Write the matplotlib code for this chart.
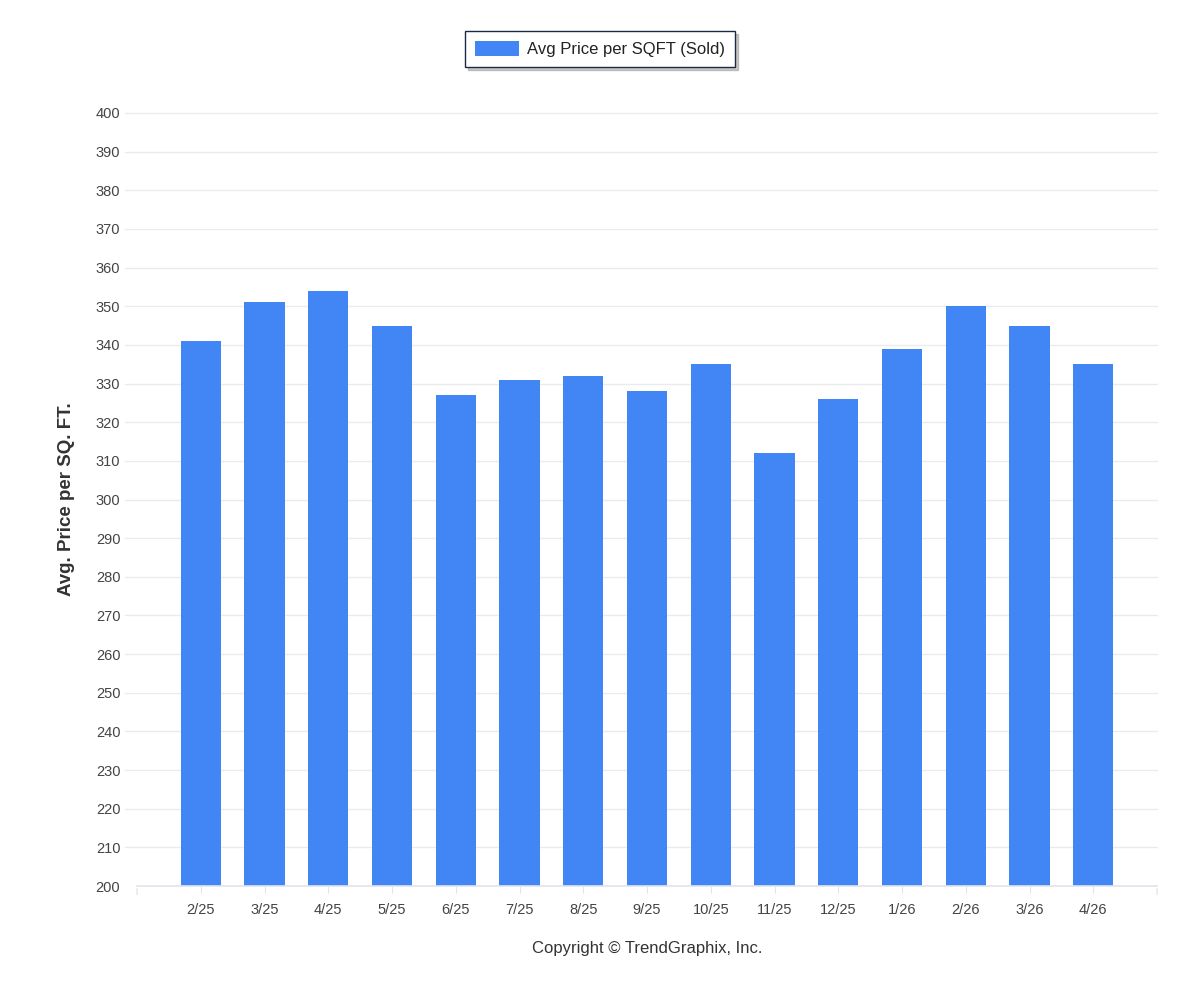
import matplotlib.pyplot as plt

# ------------------------------------------------------------
# Data
# ------------------------------------------------------------
months = ["2/25", "3/25", "4/25", "5/25", "6/25", "7/25", "8/25", "9/25",
          "10/25", "11/25", "12/25", "1/26", "2/26", "3/26", "4/26"]
price_sqft = [341, 351, 354, 345, 327, 331, 332, 328,
              335, 312, 326, 339, 350, 345, 335]
y_ticks = list(range(200, 401, 10))

bar_color = "#4285f4"
grid_color = "#ebebeb"
axis_color = "#e0e4ec"
tick_font = ["Liberation Sans", "DejaVu Sans"]

# ------------------------------------------------------------
# Figure
# ------------------------------------------------------------
fig = plt.figure(figsize=(12, 10), dpi=100)
ax = fig.add_axes([0.1142, 0.114, 0.85, 0.773])

x = list(range(len(months)))
bars = ax.bar(x, price_sqft, width=0.63, color=bar_color, zorder=3,
              label="Avg Price per SQFT (Sold)")

ax.set_xlim(-1, len(months))
ax.set_ylim(200, 400)
ax.set_yticks(y_ticks)
ax.set_yticklabels([str(v) for v in y_ticks], family=tick_font,
                   fontsize=10.5, color="#444444")
ax.set_xticks(x)
ax.set_xticklabels(months, family=tick_font, fontsize=10.5, color="#444444")

# gridlines drawn a bit into the left margin like the original
for v in y_ticks[1:]:
    ax.axhline(v, xmin=-0.012, xmax=1, color=grid_color, lw=1,
               zorder=0, clip_on=False)

for s in ["top", "right", "left"]:
    ax.spines[s].set_visible(False)
ax.spines["bottom"].set_color(axis_color)
ax.spines["bottom"].set_linewidth(1.2)
ax.spines["bottom"].set_zorder(4)

ax.tick_params(axis="y", length=0, pad=12)
ax.tick_params(axis="x", length=5, color=axis_color, pad=7)

# taller end ticks at the plot edges
for xe in (-1, len(months)):
    ax.annotate("", xy=(xe, 0), xycoords=("data", "axes fraction"),
                xytext=(xe, -0.0145), textcoords=("data", "axes fraction"),
                arrowprops=dict(arrowstyle="-", color=axis_color, lw=1))

ax.set_ylabel("Avg. Price per SQ. FT.", fontsize=13.5, fontweight="bold",
              color="#333333", labelpad=15,
              family=["Liberation Sans", "DejaVu Sans"])

# legend at top with shadow
leg = fig.legend(handles=[bars], loc="center", bbox_to_anchor=(0.5, 0.951),
                 frameon=True, fancybox=False,
                 shadow={"color": "#888888", "alpha": 0.45}, fontsize=12,
                 handlelength=2.6, handleheight=1.0, borderpad=0.6,
                 borderaxespad=0, handletextpad=0.5)
leg.get_frame().set_edgecolor("#1a2a44")
leg.get_frame().set_linewidth(1.0)
for t in leg.get_texts():
    t.set_family(["Liberation Sans", "DejaVu Sans"])
    t.set_color("#222222")

fig.text(0.539, 0.051, "Copyright \u00a9 TrendGraphix, Inc.", ha="center",
         va="center", fontsize=12, color="#333333",
         family=["Liberation Sans", "DejaVu Sans"])

fig.savefig("out.png", dpi=100, facecolor="white")
